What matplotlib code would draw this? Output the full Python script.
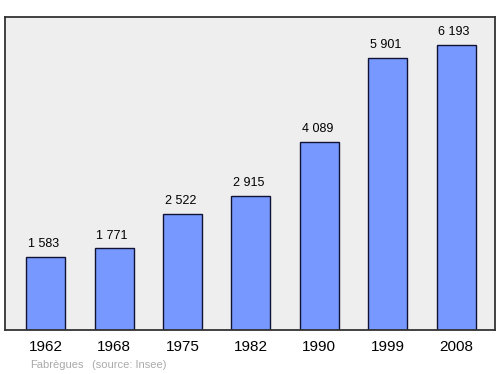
import matplotlib
matplotlib.use("Agg")
import matplotlib.pyplot as plt

# population data
years = ["1962", "1968", "1975", "1982", "1990", "1999", "2008"]
population = [1583, 1771, 2522, 2915, 4089, 5901, 6193]
value_labels = ["1 583", "1 771", "2 522", "2 915", "4 089", "5 901", "6 193"]

plt.rcParams["font.family"] = ["Liberation Sans", "DejaVu Sans"]

fig = plt.figure(figsize=(5, 3.74), dpi=100)
ax = fig.add_axes([5 / 500, 1 - 330 / 374, 490 / 500, 313 / 374])
ax.set_facecolor("#eeeeee")

x = list(range(len(years)))
ax.bar(x, population, width=0.57, color="#7799ff", edgecolor="#111133", linewidth=1)
for xi, v, lab in zip(x, population, value_labels):
    ax.text(xi - 0.03, v + 150, lab, ha="center", va="bottom", fontsize=9)

ax.set_xlim(-0.595, 6.57)
ax.set_ylim(0, 6800)
ax.set_xticks(x)
ax.set_xticklabels(years, fontsize=11)
ax.tick_params(axis="x", length=0, pad=7)
ax.set_yticks([])
for s in ax.spines.values():
    s.set_color("#333333")
    s.set_linewidth(1.3)

fig.text(30 / 500, 1 - 365 / 374, "Fabrègues", fontsize=8, color="#aaaaaa", va="center")
fig.text(92 / 500, 1 - 365 / 374, "(source: Insee)", fontsize=8, color="#aaaaaa", va="center")

fig.savefig("out.png", dpi=100)
